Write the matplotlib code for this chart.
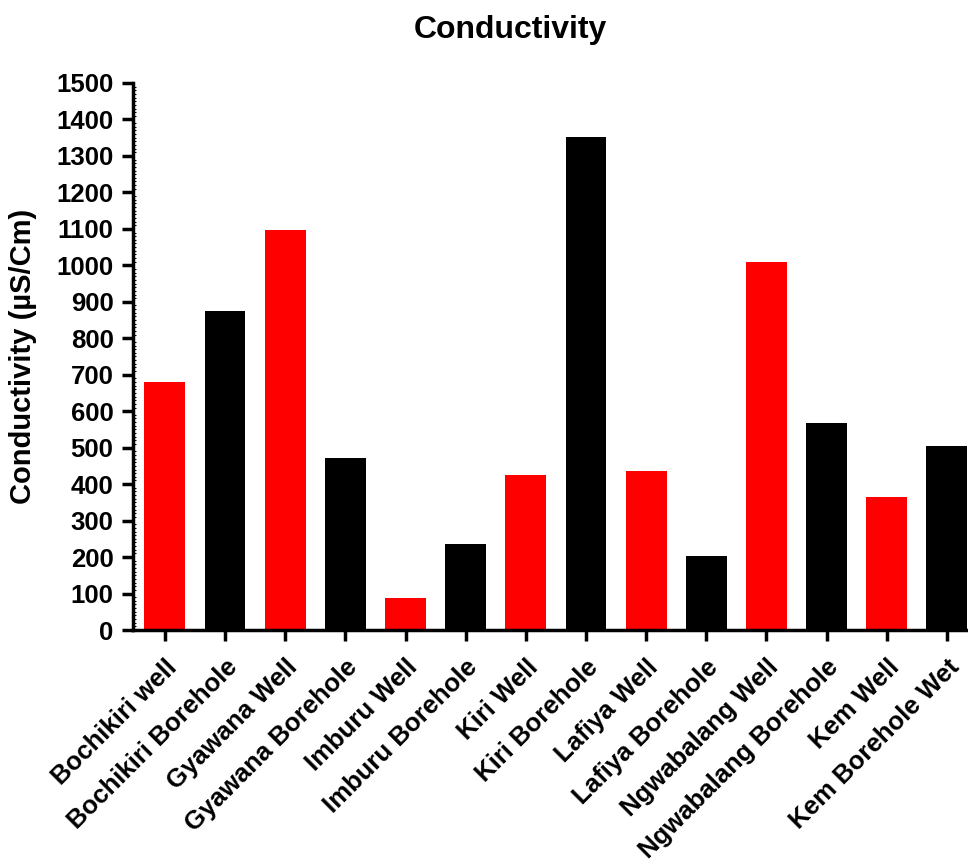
import matplotlib
matplotlib.use("Agg")
import matplotlib.pyplot as plt
from matplotlib.ticker import MultipleLocator

plt.rcParams['font.family'] = ['Liberation Sans', 'DejaVu Sans']
plt.rcParams['font.weight'] = 'bold'

categories = ["Bochikiri well", "Bochikiri Borehole", "Gyawana Well", "Gyawana Borehole",
              "Imburu Well", "Imburu Borehole", "Kiri Well", "Kiri Borehole",
              "Lafiya Well", "Lafiya Borehole", "Ngwabalang Well", "Ngwabalang Borehole",
              "Kem Well", "Kem Borehole Wet"]
values = [680, 875, 1097, 472, 88, 236, 425, 1352, 436, 203, 1009, 568, 365, 505]
colors = ["#ff0000" if i % 2 == 0 else "#000000" for i in range(len(categories))]

fig = plt.figure(figsize=(9.68, 8.66), dpi=100)
ax = fig.add_axes([133/968, 1 - 630/866, 1 - 133/968, (630 - 83)/866])

x = list(range(len(categories)))
ax.bar(x, values, width=0.68, color=colors, zorder=2)

ax.set_xlim(-0.53, 13.35)
ax.set_ylim(0, 1500)
ax.yaxis.set_major_locator(MultipleLocator(100))
ax.yaxis.set_minor_locator(MultipleLocator(10))
ax.set_xticks(x)
ax.set_xticklabels(categories, rotation=45, ha='right', rotation_mode='anchor',
                   fontsize=18.5, fontweight='bold')
for lab in ax.get_yticklabels():
    lab.set_fontweight('bold')
ax.tick_params(axis='y', labelsize=18.5, width=2.5, length=8, direction='out', pad=6)
ax.tick_params(axis='y', which='minor', length=2, width=0.8, direction='in')
ax.tick_params(axis='x', width=2.5, length=8, direction='out', pad=10)

for s in ['top', 'right']:
    ax.spines[s].set_visible(False)
for s in ['left', 'bottom']:
    ax.spines[s].set_linewidth(2.5)

ax.set_ylabel("Conductivity (µS/Cm)", fontsize=21, fontweight='bold', labelpad=14)
fig.text(510/968, 1 - 30/866, "Conductivity", fontsize=23, fontweight='bold',
         ha='center', va='center')

fig.savefig("out.png", dpi=100)
